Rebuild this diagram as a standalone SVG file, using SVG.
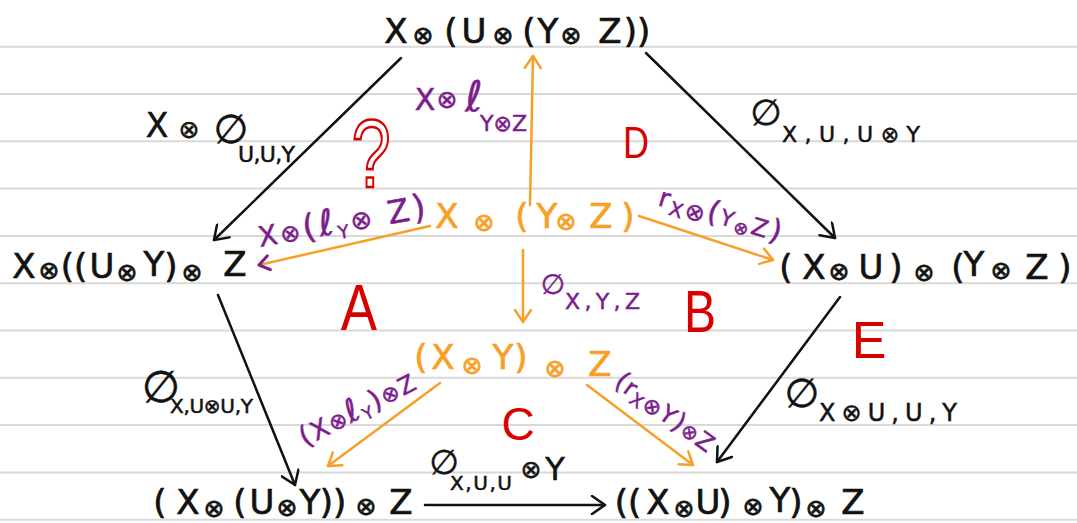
<svg xmlns="http://www.w3.org/2000/svg" width="1077" height="523" viewBox="0 0 1077 523">
<defs>
<style>
text{font-family:"DejaVu Sans","Liberation Sans",sans-serif}
.n{fill:#111;stroke:#111;stroke-width:0.7;font-size:34px;text-anchor:middle}
.no{fill:#f7a028;stroke:#f7a028;stroke-width:0.7;font-size:34px;text-anchor:middle}
.o{font-size:25px}
.p{fill:#7b1e8c;stroke:#7b1e8c;stroke-width:0.5}
.r{fill:#d90000;font-family:"Liberation Sans",sans-serif;text-anchor:middle}
.k{fill:#111;stroke:#111;stroke-width:0.5}
.ln{stroke:#d9d9d9;stroke-width:2}
.ck{stroke:#111;stroke-width:2.5;fill:none;stroke-linecap:round}
.co{stroke:#f7a028;stroke-width:2.5;fill:none;stroke-linecap:round}
</style>
<marker id="ak" markerUnits="userSpaceOnUse" viewBox="0 0 20 20" refX="18" refY="10" markerWidth="20" markerHeight="20" orient="auto"><path d="M5,1 L18,10 L5,19" fill="none" stroke="#111" stroke-width="2.5" stroke-linecap="round" stroke-linejoin="round"/></marker>
<marker id="ao" markerUnits="userSpaceOnUse" viewBox="0 0 20 20" refX="18" refY="10" markerWidth="20" markerHeight="20" orient="auto"><path d="M6,2 L18,10 L6,18" fill="none" stroke="#f7a028" stroke-width="2.5" stroke-linecap="round" stroke-linejoin="round"/></marker>
<marker id="ap" markerUnits="userSpaceOnUse" viewBox="0 0 20 20" refX="18" refY="10" markerWidth="20" markerHeight="20" orient="auto"><path d="M8,3 L18,10 L8,17" fill="none" stroke="#7b1e8c" stroke-width="3" stroke-linecap="round" stroke-linejoin="round"/></marker>
</defs>
<rect width="1077" height="523" fill="#fff"/>
<g id="paper">
<line class="ln" x1="0" x2="1077" y1="46.7" y2="46.7"/>
<line class="ln" x1="0" x2="1077" y1="94" y2="94"/>
<line class="ln" x1="0" x2="1077" y1="141.3" y2="141.3"/>
<line class="ln" x1="0" x2="1077" y1="188.6" y2="188.6"/>
<line class="ln" x1="0" x2="1077" y1="235.9" y2="235.9"/>
<line class="ln" x1="0" x2="1077" y1="283.2" y2="283.2"/>
<line class="ln" x1="0" x2="1077" y1="330.5" y2="330.5"/>
<line class="ln" x1="0" x2="1077" y1="377.8" y2="377.8"/>
<line class="ln" x1="0" x2="1077" y1="425.1" y2="425.1"/>
<line class="ln" x1="0" x2="1077" y1="472.4" y2="472.4"/>
<line class="ln" x1="0" x2="1077" y1="519.7" y2="519.7"/>
</g>
<g id="connectors">
<path class="ck" d="M401,58 L214,240" marker-end="url(#ak)"/>
<path class="ck" d="M646,53 L835,238" marker-end="url(#ak)"/>
<path class="ck" d="M218,295 L295,485" marker-end="url(#ak)"/>
<path class="ck" d="M840,297 L717,462" marker-end="url(#ak)"/>
<path class="ck" d="M425,505 L605,505" marker-end="url(#ak)"/>
<path class="co" d="M530,205 L533,56" marker-end="url(#ao)"/>
<path class="co" d="M430,226 L259,265" marker-end="url(#ap)"/>
<path class="co" d="M639,216 L773,260" marker-end="url(#ao)"/>
<path class="co" d="M523,250 L523,322" marker-end="url(#ao)"/>
<path class="co" d="M440,383 L328,466" marker-end="url(#ao)"/>
<path class="co" d="M587,385 L693,465" marker-end="url(#ao)"/>
</g>
<g id="n-top">
<text class="n" y="43"><tspan x="396">X</tspan><tspan class="o" x="423" y="44">⊗</tspan><tspan x="451" y="43">(</tspan><tspan x="474">U</tspan><tspan class="o" x="503" y="44">⊗</tspan><tspan x="529" y="43">(</tspan><tspan x="548">Y</tspan><tspan class="o" x="571" y="44">⊗</tspan><tspan x="610" y="43">Z</tspan><tspan x="637">))</tspan></text>
</g>
<g id="n-left">
<text class="n" y="278"><tspan x="24">X</tspan><tspan class="o" x="49" y="279">⊗</tspan><tspan x="74" y="278">((</tspan><tspan x="102">U</tspan><tspan class="o" x="127" y="281">⊗</tspan><tspan x="154" y="276">Y</tspan><tspan x="171" y="278">)</tspan><tspan class="o" x="192" y="281">⊗</tspan><tspan x="235" y="276">Z</tspan></text>
</g>
<g id="n-right">
<text class="n" y="279"><tspan x="786">(</tspan><tspan x="814">X</tspan><tspan class="o" x="839" y="280">⊗</tspan><tspan x="871" y="279">U</tspan><tspan x="896">)</tspan><tspan class="o" x="924" y="281">⊗</tspan><tspan x="958" y="279">(</tspan><tspan x="974" y="276">Y</tspan><tspan class="o" x="1001" y="279">⊗</tspan><tspan x="1037" y="279">Z</tspan><tspan x="1065">)</tspan></text>
</g>
<g id="n-center">
<text class="no" y="228"><tspan x="447">X</tspan><tspan class="o" x="484" y="231">⊗</tspan><tspan x="522" y="228">(</tspan><tspan x="547">Y</tspan><tspan class="o" x="566" y="230">⊗</tspan><tspan x="601" y="228">Z</tspan><tspan x="628">)</tspan></text>
</g>
<g id="n-mid">
<text class="no" y="369"><tspan x="421">(</tspan><tspan x="443">X</tspan><tspan class="o" x="472" y="374">⊗</tspan><tspan x="503" y="369">Y</tspan><tspan x="521">)</tspan><tspan class="o" x="555" y="377">⊗</tspan><tspan x="600" y="376">Z</tspan></text>
</g>
<g id="n-botleft">
<text class="n" y="514"><tspan x="160">(</tspan><tspan x="188">X</tspan><tspan class="o" x="214" y="517">⊗</tspan><tspan x="240" y="514">(</tspan><tspan x="262">U</tspan><tspan class="o" x="287" y="516">⊗</tspan><tspan x="310" y="514">Y</tspan><tspan x="333">))</tspan><tspan class="o" x="366" y="515">⊗</tspan><tspan x="401" y="514">Z</tspan></text>
</g>
<g id="n-botright">
<text class="n" y="514"><tspan x="628">((</tspan><tspan x="658">X</tspan><tspan class="o" x="684" y="517">⊗</tspan><tspan x="708" y="514">U</tspan><tspan x="725">)</tspan><tspan class="o" x="753" y="515">⊗</tspan><tspan x="780" y="512">Y</tspan><tspan x="796" y="514">)</tspan><tspan class="o" x="816" y="517">⊗</tspan><tspan x="853" y="514">Z</tspan></text>
</g>
<g id="labels-black" class="k">
<text font-size="33" x="157" y="137" text-anchor="middle">X</text>
<text font-size="25" x="189" y="138" text-anchor="middle">⊗</text>
<text font-size="40" x="231" y="143" text-anchor="middle">∅</text>
<text font-size="22" x="238" y="162" textLength="57" lengthAdjust="spacing">U,U,Y</text>
<text font-size="36" x="766" y="125" text-anchor="middle">∅</text>
<text font-size="22" x="782" y="142" textLength="138" lengthAdjust="spacing">X,U,U⊗Y</text>
<text font-size="44" x="161" y="402" text-anchor="middle">∅</text>
<text font-size="20" x="170" y="413" textLength="83" lengthAdjust="spacing">X,U⊗U,Y</text>
<text font-size="40" x="802" y="407" text-anchor="middle">∅</text>
<text font-size="24" x="819" y="421" textLength="138" lengthAdjust="spacing">X⊗U,U,Y</text>
<text font-size="34" x="444" y="474" text-anchor="middle">∅</text>
<text font-size="20" x="450" y="490" textLength="62" lengthAdjust="spacing">X,U,U</text>
<text font-size="25" x="531" y="478" text-anchor="middle">⊗</text>
<text font-size="32" x="555" y="480" text-anchor="middle">Y</text>
</g>
<g id="labels-purple" class="p">
<text font-size="30" x="425" y="110" text-anchor="middle">X</text>
<text font-size="25" x="447" y="108" text-anchor="middle">⊗</text>
<text font-size="42" x="474" y="111" text-anchor="middle">ℓ</text>
<text font-size="22" x="480" y="131" textLength="47" lengthAdjust="spacing">Y⊗Z</text>
<text font-size="28" x="553" y="294" text-anchor="middle">∅</text>
<text font-size="22" x="565" y="309" textLength="75" lengthAdjust="spacing">X,Y,Z</text>
<text transform="translate(260,247) rotate(-10)" letter-spacing="3"><tspan font-size="28">X</tspan><tspan font-size="24">⊗</tspan><tspan font-size="34">(</tspan><tspan font-size="36">ℓ</tspan><tspan font-size="18" dy="6">Y</tspan><tspan font-size="26" dy="-6">⊗</tspan><tspan font-size="32"> Z</tspan><tspan font-size="34">)</tspan></text>
<text transform="translate(657,205) rotate(17)" letter-spacing="2"><tspan font-size="26">r</tspan><tspan font-size="20" dy="6">X</tspan><tspan font-size="24" dy="-2">⊗</tspan><tspan font-size="30" dy="-4">(</tspan><tspan font-size="22">Y</tspan><tspan font-size="18" dy="4">⊗</tspan><tspan font-size="24" dy="-4">Z</tspan><tspan font-size="30">)</tspan></text>
<text transform="translate(305,447) rotate(-27.5)" letter-spacing="1.5"><tspan font-size="28">(</tspan><tspan font-size="26">X</tspan><tspan font-size="22">⊗</tspan><tspan font-size="32">ℓ</tspan><tspan font-size="17" dy="5">Y</tspan><tspan font-size="28" dy="-5">)</tspan><tspan font-size="22">⊗</tspan><tspan font-size="24">Z</tspan></text>
<text transform="translate(613,385) rotate(36)" letter-spacing="1"><tspan font-size="26">(</tspan><tspan font-size="24">r</tspan><tspan font-size="18" dy="5">X</tspan><tspan font-size="22" dy="-3">⊗</tspan><tspan font-size="24" dy="-2">Y</tspan><tspan font-size="26">)</tspan><tspan font-size="20">⊗</tspan><tspan font-size="24">Z</tspan></text>
</g>
<g id="labels-red">
<text class="r" transform="translate(371,187) scale(0.8,1.1)" font-size="88" stroke="#d90000" stroke-width="2.4" style="fill:#fff">?</text>
<text class="r" transform="translate(636,158) scale(0.8,1)" font-size="45">D</text>
<text class="r" transform="translate(359,330) scale(0.85,1)" font-size="64">A</text>
<text class="r" transform="translate(700,332) scale(0.8,1)" font-size="60">B</text>
<text class="r" x="518" y="440" font-size="46">C</text>
<text class="r" x="869" y="358" font-size="52">E</text>
</g>
</svg>
